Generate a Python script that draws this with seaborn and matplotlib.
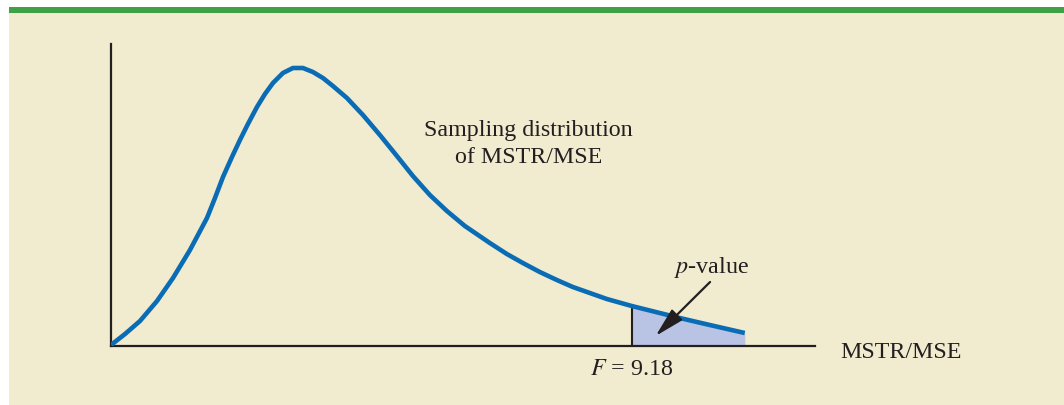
import numpy as np
import pandas as pd
import matplotlib
matplotlib.use("Agg")
import matplotlib.pyplot as plt
import seaborn as sns
from matplotlib.patches import Rectangle

# valores (eje x en unidades de F)
f_vals = [0.000, 0.247, 0.511, 0.811, 1.093, 1.392, 1.692, 1.833, 1.974, 2.132,
          2.273, 2.414, 2.573, 2.714, 2.855, 3.031, 3.207, 3.383, 3.559, 3.736,
          3.912, 4.159, 4.441, 4.740, 5.040, 5.322, 5.621, 5.921, 6.238, 6.678,
          6.978, 7.260, 7.559, 7.859, 8.141, 8.441, 8.740, 9.180, 9.674, 10.026,
          10.555, 11.172]
density = [0.001, 0.012, 0.025, 0.045, 0.068, 0.096, 0.128, 0.148, 0.169, 0.189,
           0.206, 0.222, 0.239, 0.252, 0.263, 0.273, 0.278, 0.278, 0.274, 0.268,
           0.260, 0.248, 0.231, 0.211, 0.190, 0.170, 0.151, 0.135, 0.120, 0.103,
           0.092, 0.083, 0.074, 0.066, 0.059, 0.053, 0.047, 0.040, 0.033, 0.028,
           0.021, 0.013]
f_stat = 9.18
x_label = "MSTR/MSE"
curve_label = "Sampling distribution\nof MSTR/MSE"

df = pd.DataFrame({"f": f_vals, "dens": density})

sns.set_theme(style="white")
plt.rcParams["font.family"] = ["Liberation Serif", "DejaVu Serif"]
plt.rcParams["mathtext.fontset"] = "stix"

fig = plt.figure(figsize=(10.64, 4.06), dpi=100)
fig.patch.set_facecolor("white")
# fondo beige y franja verde
fig.patches.append(Rectangle((9 / 1064, -0.02), 1, 392 / 406 + 0.02, transform=fig.transFigure,
                             facecolor="#f1ebcf", edgecolor="none", zorder=-5))
fig.patches.append(Rectangle((9 / 1064, 392 / 406), 1, 6 / 406, transform=fig.transFigure,
                             facecolor="#3fa046", edgecolor="none", zorder=-5))

ax = fig.add_axes([111 / 1064, 59 / 406, 704 / 1064, 302 / 406])
ax.set_zorder(2)
ax.set_facecolor("none")

tail = df[df["f"] >= f_stat]
ax.fill_between(tail["f"], 0, tail["dens"], color="#b9c3e4", lw=0, zorder=1)
y_at_f = df.loc[df["f"] == f_stat, "dens"].iloc[0]
ax.plot([f_stat, f_stat], [0, y_at_f], color="#231f20", lw=1.5, zorder=2)

sns.lineplot(data=df, x="f", y="dens", color="#0a6cb5", lw=3.3, ax=ax, zorder=3,
             solid_joinstyle="round", solid_capstyle="butt")

ax.set_xlim(0, 12.41)
ax.set_ylim(0, 0.302)
ax.set_xticks([])
ax.set_yticks([])
ax.set_xlabel("")
ax.set_ylabel("")
for s in ["top", "right"]:
    ax.spines[s].set_visible(False)
for s in ["left", "bottom"]:
    ax.spines[s].set_color("#231f20")
    ax.spines[s].set_linewidth(1.6)

fs = 17.3
ax.text(7.36, 0.203, curve_label, ha="center", va="center", fontsize=fs,
        color="#231f20", linespacing=1.4)
ax.text(12.86, -0.006, x_label, ha="left", va="center", fontsize=fs, color="#231f20",
        clip_on=False)
ax.text(f_stat, -0.023, "$F$ = 9.18", ha="center", va="center", fontsize=fs,
        color="#231f20", clip_on=False)
ax.text(10.59, 0.079, "$p$-value", ha="center", va="center", fontsize=fs,
        color="#231f20")
ax.annotate("", xy=(9.60, 0.010), xytext=(10.56, 0.064),
            arrowprops=dict(arrowstyle="-|>,head_length=1.5,head_width=0.38",
                            color="#231f20", lw=1.6, shrinkA=0, shrinkB=0))

fig.savefig("out.png", dpi=100, facecolor=fig.get_facecolor())
